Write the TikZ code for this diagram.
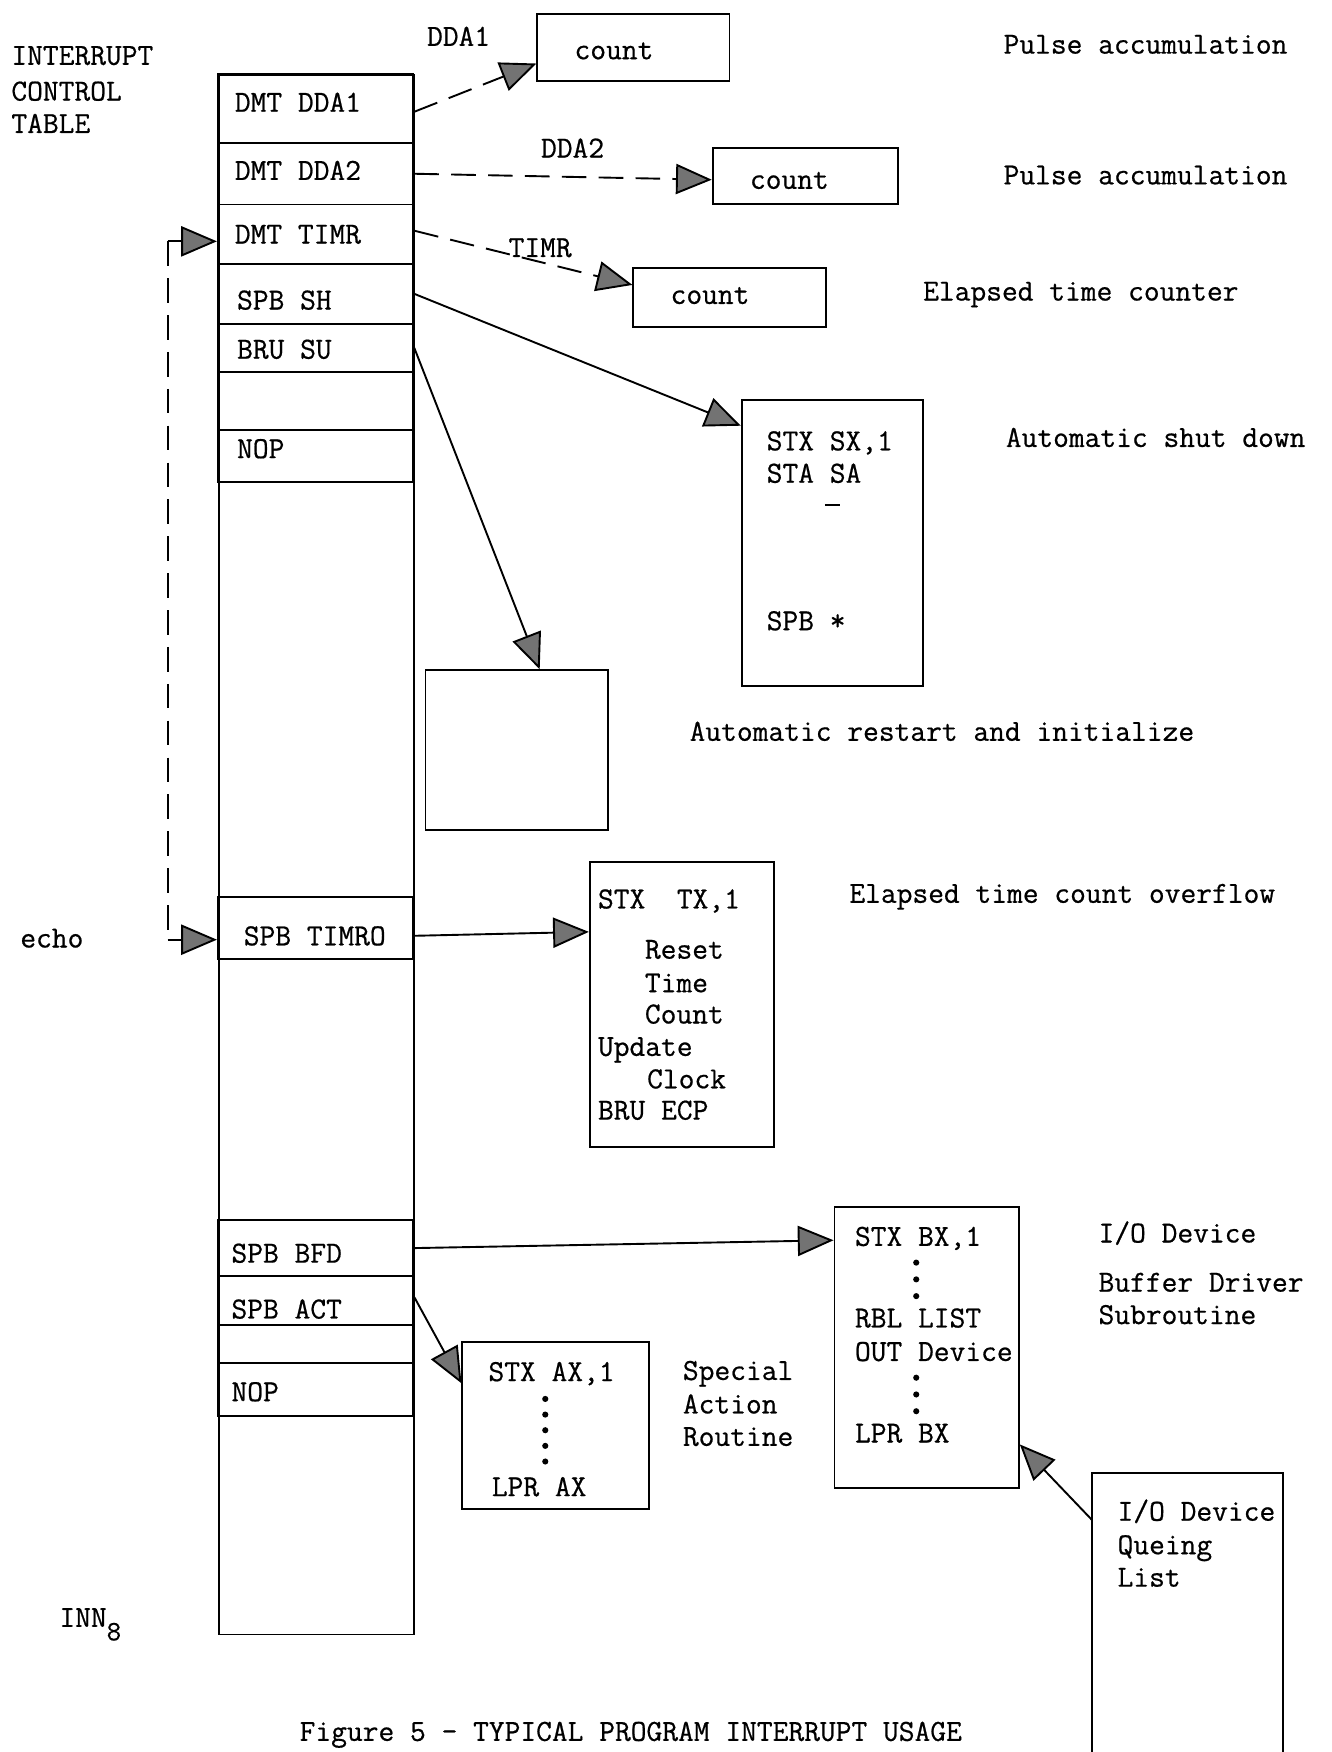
\documentclass[tikz,border=0pt]{standalone}
\usepackage{fontspec}
\newfontfamily\twfont{Latin Modern Mono}[FakeBold=0.6]
\usetikzlibrary{arrows.meta,calc}
\begin{document}
\begin{tikzpicture}[x=1pt,y=-1pt,
  lbl/.style={anchor=base west, inner sep=0pt, font=\twfont\fontsize{27.4}{29}\selectfont},
  rowbox/.style={draw, minimum width=175pt, inner sep=0pt, line width=1.7pt},
  box/.style={draw, inner sep=0pt, anchor=north west, line width=1.7pt},
  tipT/.tip={Triangle[length=32pt,width=27pt,fill=black!55]},
  conn/.style={line width=1.7pt, -tipT},
  dconn/.style={conn, dash pattern=on 22pt off 11pt},
  dashline/.style={line width=1.9pt, dash pattern=on 22pt off 11pt},
  dotc/.style={circle, fill, inner sep=0pt, minimum size=5.5pt}
]
\useasboundingbox (0,0) rectangle (1192,1568);
\fill[white] (0,0) rectangle (1192,1568);

% ---- left labels
\node[lbl] (t1) at (10,58) {INTERRUPT};
\node[lbl] (t2) at (10,90) {CONTROL};
\node[lbl] (t3) at (10,119) {TABLE};
\node[lbl] (echo) at (18,848) {echo};
\node[lbl] (inn) at (53,1456) {INN\raisebox{-12pt}{\fontsize{25}{25}\selectfont 8}};
\node[lbl] (cap) at (268,1558) {Figure 5 - TYPICAL PROGRAM INTERRUPT USAGE};

% ---- main table
\node[box, minimum width=175pt, minimum height=1396pt] (tbl) at (195,66) {};
\node[rowbox, minimum height=62pt] (r1) at (282.5,97) {};
\node[rowbox, minimum height=55pt] (r2) at (282.5,155.5) {};
\node[rowbox, minimum height=53pt] (r3) at (282.5,209.5) {};
\node[rowbox, minimum height=54pt] (r4) at (282.5,263) {};
\node[rowbox, minimum height=43pt] (r5) at (282.5,311.5) {};
\node[rowbox, minimum height=52pt] (r6) at (282.5,359) {};
\node[rowbox, minimum height=46pt] (r7) at (282.5,408) {};
\node[rowbox, minimum height=55pt] (r8) at (282.5,830.5) {};
\node[rowbox, minimum height=50pt] (r9) at (282.5,1117) {};
\node[rowbox, minimum height=44pt] (r10) at (282.5,1164) {};
\node[rowbox, minimum height=34pt] (r11) at (282.5,1203) {};
\node[rowbox, minimum height=47pt] (r12) at (282.5,1243.5) {};

\node[lbl] (l1) at (210,100) {DMT DDA1};
\node[lbl] (l2) at (210,161) {DMT DDA2};
\node[lbl] (l3) at (210,218) {DMT TIMR};
\node[lbl] (l4) at (212,277) {SPB SH};
\node[lbl] (l5) at (212,321) {BRU SU};
\node[lbl] (l7) at (212,410) {NOP};
\node[lbl] (l8) at (218,846) {SPB TIMRO};
\node[lbl] (l9) at (207,1130) {SPB BFD};
\node[lbl] (l10) at (207,1180) {SPB ACT};
\node[lbl] (l12) at (207,1254) {NOP};

% ---- boxes
\node[box, minimum width=172pt, minimum height=60pt] (cnt1) at (480,12) {};
\node[box, minimum width=166pt, minimum height=50pt] (cnt2) at (637,132) {};
\node[box, minimum width=172pt, minimum height=53pt] (cnt3) at (566,239) {};
\node[box, minimum width=162pt, minimum height=256pt] (shut) at (663,357) {};
\node[box, minimum width=163pt, minimum height=143pt] (rest) at (380,599) {};
\node[box, minimum width=165pt, minimum height=255pt] (timro) at (527,771) {};
\node[box, minimum width=165pt, minimum height=252pt] (bfd) at (746,1079) {};
\node[box, minimum width=167pt, minimum height=150pt] (act) at (413,1200) {};
\node[anchor=north west, inner sep=0pt, minimum width=171pt, minimum height=262pt] (queue) at (977,1318) {};
\draw[line width=1.7pt] (queue.south west) -- (queue.north west) -- (queue.north east) -- (queue.south east);

% box texts
\node[lbl] (c1) at (514,53) {count};
\node[lbl] (c2) at (671,169) {count};
\node[lbl] (c3) at (600,272) {count};

\node[lbl] (s1) at (686,403) {STX SX,1};
\node[lbl] (s2) at (686,432) {STA SA};
\node[anchor=west, inner sep=0pt] (s3) at (738,452) {\rule{14pt}{1.5pt}};
\node[lbl] (s4) at (686,564) {SPB *};

\node[lbl] (x1) at (535,813) {STX\ \ TX,1};
\node[lbl] (x2) at (577,858) {Reset};
\node[lbl] (x3) at (577,888) {Time};
\node[lbl] (x4) at (577,916) {Count};
\node[lbl] (x5) at (535,945) {Update};
\node[lbl] (x6) at (579,974) {Clock};
\node[lbl] (x7) at (535,1002) {BRU ECP};

\node[lbl] (b1) at (765,1115) {STX BX,1};
\node[lbl] (b2) at (765,1188) {RBL LIST};
\node[lbl] (b3) at (765,1218) {OUT Device};
\node[lbl] (b4) at (765,1291) {LPR BX};
\foreach \yy [count=\i] in {1130,1145,1160,1233,1248,1263}
  \node[dotc] (bd\i) at (820,\yy) {};

\node[lbl] (a1) at (437,1236) {STX AX,1};
\node[lbl] (a2) at (440,1339) {LPR AX};
\foreach \yy [count=\i] in {1252,1266,1280,1294,1308}
  \node[dotc] (ad\i) at (488,\yy) {};

\node[lbl] (q1) at (1000,1361) {I/O Device};
\node[lbl] (q2) at (1000,1391) {Queing};
\node[lbl] (q3) at (1000,1420) {List};

% ---- connector labels
\node[lbl] (k1) at (382,41) {DDA1};
\node[lbl] (k2) at (484,141) {DDA2};
\node[lbl] (k3) at (455,230) {TIMR};

% ---- right-hand descriptions
\node[lbl] (d1) at (898,48) {Pulse accumulation};
\node[lbl] (d2) at (898,165) {Pulse accumulation};
\node[lbl] (d3) at (826,269) {Elapsed time counter};
\node[lbl] (d4) at (900,400) {Automatic shut down};
\node[lbl] (d5) at (617,663) {Automatic restart and initialize};
\node[lbl] (d6) at (760,808) {Elapsed time count overflow};
\node[lbl] (d7) at (983,1112) {I/O Device};
\node[lbl] (d8) at (983,1156) {Buffer Driver};
\node[lbl] (d9) at (983,1185) {Subroutine};
\node[lbl] (d10) at (611,1235) {Special};
\node[lbl] (d11) at (611,1265) {Action};
\node[lbl] (d12) at (611,1294) {Routine};

% ---- connectors
\draw[dconn] ($(r1.east)+(0,3)$) -- ($(cnt1.west)+(0,14)$);
\draw[dconn] (r2.east) -- ($(cnt2.west)+(0,3)$);
\draw[dconn] ($(r3.east)+(0,-3)$) -- ($(cnt3.north west)+(0,16)$);
\draw[conn] (r4.east) -- ($(shut.north west)+(0,24)$);
\draw[conn] (r5.east) -- ($(rest.north west)+(103,0)$);
\draw[conn] ($(r8.east)+(0,7)$) -- ($(timro.north west)+(0,63)$);
\draw[conn] (r9.east) -- ($(bfd.north west)+(0,31)$);
\draw[conn] ($(r10.east)+(0,-3)$) -- ($(act.north west)+(0,38)$);
\draw[conn] ($(queue.north west)+(0,42)$) -- ($(bfd.south east)+(0,-40)$);

% echo loop
\coordinate (ectop) at (150,216);
\coordinate (ecbot) at (150,841);
\draw[conn] (ectop) -- (r3.west |- ectop);
\draw[dashline] (ectop) -- (ecbot);
\draw[conn] (ecbot) -- (r8.west |- ecbot);
\end{tikzpicture}
\end{document}
